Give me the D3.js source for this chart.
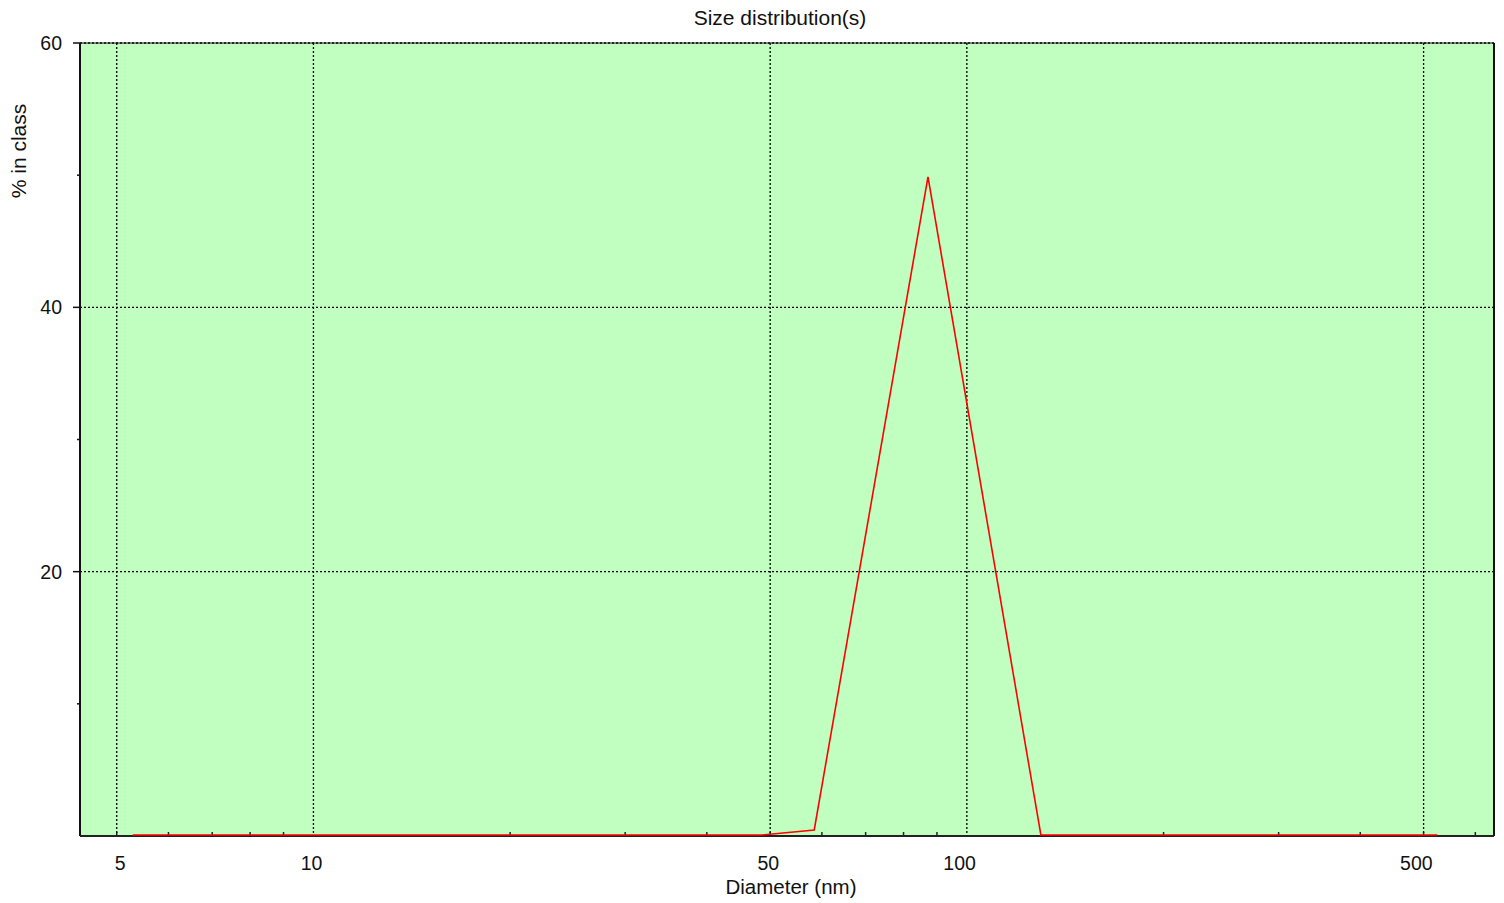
<!DOCTYPE html>
<html>
<head>
<meta charset="utf-8">
<script src="https://cdn.jsdelivr.net/npm/d3@7"></script>
<style>
body { margin: 0; background: #fff; }
text { font-family: "Liberation Sans", Arial, sans-serif; fill: #111; }
</style>
</head>
<body>
<svg id="chart" width="1504" height="903"></svg>
<script>
// diameters (nm) and % in class
var diameters = [5.29, 48.5, 58.4, 87.2, 129.8, 525];
var percents  = [0, 0, 0.38, 49.8, 0, 0];
var xTicks = [5, 10, 50, 100, 500];
var yTicks = [20, 40, 60];
var yMinor = [10, 30, 50];

var margin = {top: 43, right: 10, bottom: 67, left: 80};
var W = 1504, H = 903;
var w = W - margin.left - margin.right,
	h = H - margin.top - margin.bottom;

var svg = d3.select('#chart');
var g = svg.append('g').attr('transform', 'translate(' + margin.left + ',' + margin.top + ')');

var x = d3.scaleLog().domain([4.393, 640.8]).range([0, w]);
var y = d3.scaleLinear().domain([0, 60]).range([h, 0]);

g.append('rect').attr('width', w).attr('height', h).attr('fill', '#c0ffc0');

// minor log ticks, pointing up into the plot
var minors = [];
[1, 10, 100].forEach(function(dec) {
	for (var k = 2; k <= 9; k++) {
		var v = k * dec;
		if (v > x.domain()[0] && v < x.domain()[1]) minors.push(v);
	}
});
g.selectAll('.xminor').data(minors).enter().append('line')
	.attr('x1', function(d) { return x(d); }).attr('x2', function(d) { return x(d); })
	.attr('y1', h).attr('y2', h - 4)
	.attr('stroke', '#222').attr('stroke-width', 1.5);

// dotted grid
g.selectAll('.vgrid').data(xTicks).enter().append('line')
	.attr('x1', function(d) { return x(d); }).attr('x2', function(d) { return x(d); })
	.attr('y1', 0).attr('y2', h + 2)
	.attr('stroke', '#000').attr('stroke-width', 1.3).attr('stroke-dasharray', '2,2');
g.selectAll('.hgrid').data(yTicks).enter().append('line')
	.attr('x1', 0).attr('x2', w)
	.attr('y1', function(d) { return y(d); }).attr('y2', function(d) { return y(d); })
	.attr('stroke', '#000').attr('stroke-width', 1.3).attr('stroke-dasharray', '2,2');

// frame
g.append('line').attr('x1', 0).attr('x2', 0).attr('y1', 0).attr('y2', h).attr('stroke', '#111').attr('stroke-width', 2);
g.append('line').attr('x1', w).attr('x2', w).attr('y1', 0).attr('y2', h).attr('stroke', '#111').attr('stroke-width', 2);
g.append('line').attr('x1', 0).attr('x2', w).attr('y1', h).attr('y2', h).attr('stroke', '#222').attr('stroke-width', 2);
g.append('line').attr('x1', 0).attr('x2', w).attr('y1', 0).attr('y2', 0).attr('stroke', '#111').attr('stroke-width', 1);

// y ticks
g.selectAll('.ymaj').data(yTicks).enter().append('line')
	.attr('x1', -7).attr('x2', 0)
	.attr('y1', function(d) { return y(d); }).attr('y2', function(d) { return y(d); })
	.attr('stroke', '#111').attr('stroke-width', 1.5);
g.selectAll('.ymin').data(yMinor).enter().append('line')
	.attr('x1', -3).attr('x2', 0)
	.attr('y1', function(d) { return y(d); }).attr('y2', function(d) { return y(d); })
	.attr('stroke', '#111').attr('stroke-width', 1.5);
g.selectAll('.ylab').data(yTicks).enter().append('text')
	.attr('x', -18).attr('y', function(d) { return y(d); })
	.attr('dy', '0.36em').attr('text-anchor', 'end')
	.style('font-size', '19.5px').text(function(d) { return d; });

// x tick labels
g.selectAll('.xlab').data(xTicks).enter().append('text')
	.attr('x', function(d) { return x(d) + 9; }).attr('y', h + 34)
	.attr('text-anchor', 'end')
	.style('font-size', '19.5px').text(function(d) { return d; });

// distribution line
var line = d3.line()
	.x(function(d, i) { return x(diameters[i]); })
	.y(function(d) { return y(d) - 1; });
g.append('path').datum(percents)
	.attr('d', line).attr('fill', 'none')
	.attr('stroke', '#ff0000').attr('stroke-width', 1.6);

// titles
svg.append('text').attr('x', 780).attr('y', 25).attr('text-anchor', 'middle')
	.style('font-size', '21px').text('Size distribution(s)');
svg.append('text').attr('x', 791).attr('y', 894).attr('text-anchor', 'middle')
	.style('font-size', '20.5px').text('Diameter (nm)');
svg.append('text').attr('transform', 'translate(26,151) rotate(-90)')
	.attr('text-anchor', 'middle')
	.style('font-size', '21px').text('% in class');
</script>
</body>
</html>
